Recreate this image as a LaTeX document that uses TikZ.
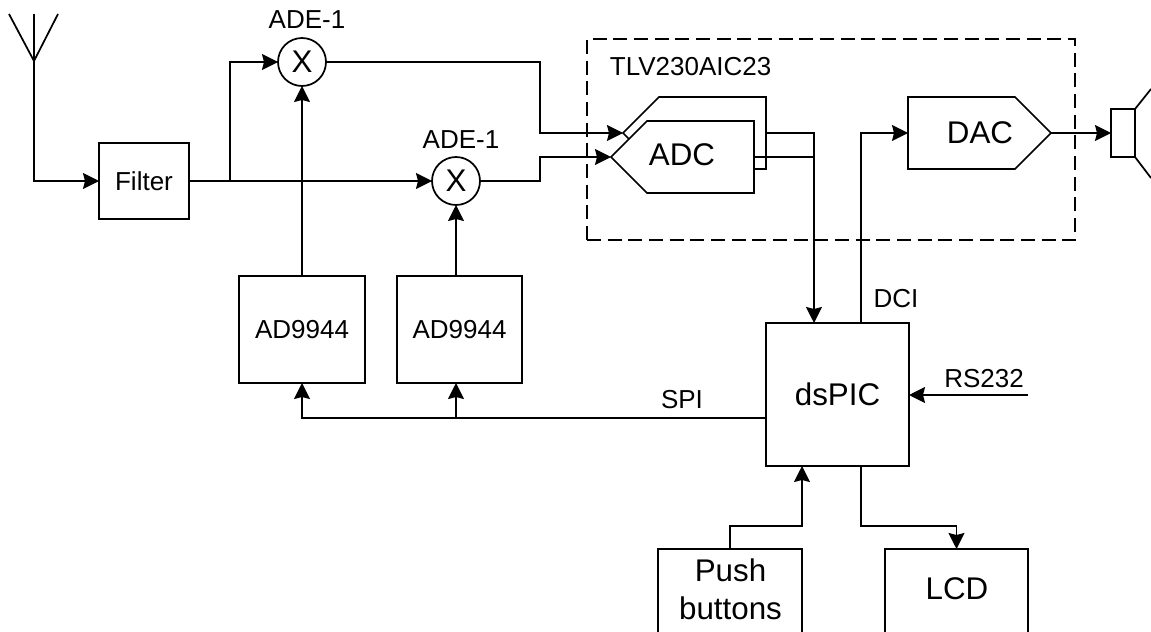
\documentclass[tikz,border=0pt]{standalone}
\usepackage{fontspec}
\setmainfont{Liberation Sans}
\usetikzlibrary{arrows.meta,shapes.symbols}
\tikzset{
  small/.style={font=\fontsize{19.5}{23}\selectfont},
  big/.style={font=\fontsize{23.5}{28.5}\selectfont},
  block/.style={draw,rectangle,inner sep=0pt,outer sep=0pt,align=center},
  mixer/.style={draw,circle,big,inner sep=0pt,outer sep=0pt,minimum size=48*0.75pt},
  converter/.style={draw,fill=white,signal,signal pointer angle=90,inner sep=0pt,outer sep=0pt,
    minimum width=143*0.75pt,minimum height=72*0.75pt},
  arrow/.style={-{Stealth[length=12pt,width=12pt,inset=1.5pt]}}
}
\begin{document}
\begin{tikzpicture}[x=0.75pt,y=-0.75pt,line width=1.3pt,line join=miter]
  \useasboundingbox (0,0) rectangle (1151,631);
  \node[block,small,minimum width=90*0.75pt,minimum height=76*0.75pt] (filter) at (144,181) {Filter};
  \node[mixer] (mixa) at (302,62) {X};
  \node[mixer] (mixb) at (456,181) {X};
  \node[small] (adelabela) at (307,20) {ADE-1};
  \node[small] (adelabelb) at (461,140) {ADE-1};
  \node[block,small,minimum width=126*0.75pt,minimum height=107*0.75pt] (ada) at (302,329.5) {AD9944};
  \node[block,small,minimum width=125*0.75pt,minimum height=107*0.75pt] (adb) at (459.5,329.5) {AD9944};
  \node[draw,dash pattern=on 10.5pt off 5pt,minimum width=488*0.75pt,minimum height=201*0.75pt,inner sep=0pt] (tlv) at (831,139.5) {};
  \node[small,anchor=west,inner sep=0pt] (tlvlabel) at (609,67) {TLV230AIC23};
  \node[converter,signal to=west] (adcback) at (712.5,133) {};
  \node[converter,signal to=west] (adc) at (700.5,157) {};
  \node[converter,signal to=east] (dac) at (961.5,133) {};
  \node[big] (adclabel) at (682,155) {ADC};
  \node[big] (daclabel) at (980,133) {DAC};
  \node[block,big,minimum width=143*0.75pt,minimum height=143*0.75pt] (dspic) at (837.5,394.5) {dsPIC};
  \node[block,minimum width=144*0.75pt,minimum height=84*0.75pt] (push) at (730,591) {};
  \node[block,minimum width=143*0.75pt,minimum height=84*0.75pt] (lcd) at (956.5,591) {};
  \node[big,align=center] (pushlabel) at (730.5,589) {Push\\buttons};
  \node[big] (lcdlabel) at (957,589) {LCD};
  \node[block,minimum width=24*0.75pt,minimum height=48*0.75pt] (spk) at (1123,133) {};
  \node[small] (dcilabel) at (896,299) {DCI};
  \node[small] (rslabel) at (984,379) {RS232};
  \node[small] (spilabel) at (682,400) {SPI};
  \coordinate (anttop) at (34,14);
  \coordinate (antleft) at (9,14);
  \coordinate (antright) at (58,14);
  \coordinate (antbase) at (34,61);
  \coordinate (split) at (230,181);
  \coordinate (adcin) at (540,100);
  \coordinate (adcout) at (814,323);
  \coordinate (dciout) at (861,323);
  \coordinate (lcdout) at (861,466);
  \coordinate (pushin) at (802,466);
  \coordinate (spiout) at (766,418);
  \coordinate (rsin) at (1028,395);
  \coordinate (conea) at (1151,89);
  \coordinate (coneb) at (1151,178);
  \draw (antleft) -- (antbase) -- (antright);
  \draw[arrow] (anttop) |- (filter.west);
  \draw[arrow] (filter.east) -- (mixb.west);
  \draw[arrow] (split) |- (mixa.west);
  \draw[arrow] (ada.north) -- (mixa.south);
  \draw[arrow] (adb.north -| mixb) -- (mixb.south);
  \draw[arrow] (mixa.east) -| (adcin |- adcback.west) -- (adcback.west);
  \draw[arrow] (mixb.east) -| (adcin |- adc.west) -- (adc.west);
  \draw[arrow] (adcback.east) -| (adcout);
  \draw (adc.east) -- (adc.east -| adcout);
  \draw[arrow] (dciout) |- (dac.west);
  \draw[arrow] (dac.east) -- (spk.west);
  \draw (spk.north east) -- (conea);
  \draw (spk.south east) -- (coneb);
  \draw[arrow] (spiout) -| (ada.south);
  \draw[arrow] (spiout -| mixb) -- (adb.south -| mixb);
  \draw[arrow] (rsin) -- (rsin -| dspic.east);
  \draw[arrow] (push.north) -- ++(0,-23) -| (pushin);
  \draw[arrow] (lcdout) -- ++(0,60) -| (lcd.north);
\end{tikzpicture}
\end{document}
